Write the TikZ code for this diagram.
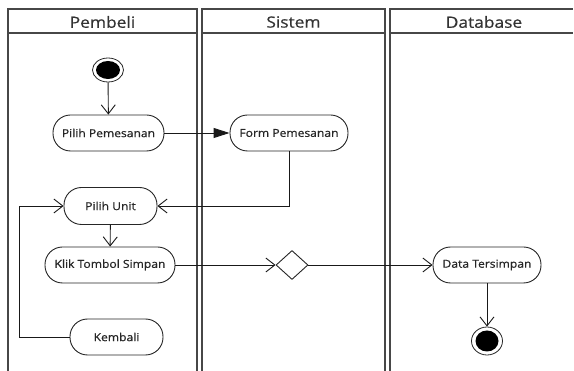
\documentclass[tikz,border=0pt]{standalone}
\usepackage{fontspec}
\setmainfont{Open Sans}[FakeStretch=1.1]
\usetikzlibrary{arrows.meta,shapes.geometric}
\tikzset{
  lane/.style={draw=black!72, line width=1.2pt},
  act/.style={draw=black!85, line width=0.9pt, fill=white, rounded corners=17.5pt,
    minimum height=36pt, inner sep=0pt, font=\fontsize{11}{13}\selectfont\addfontfeature{FakeBold=0.6}, text=black!85},
  hdr/.style={font=\fontsize{15.5}{18}\selectfont\addfontfeature{FakeStretch=1.12,FakeBold=0.5}, text=black!80},
  flow/.style={draw=black!90, line width=0.9pt, -{Straight Barb[length=9pt,width=14pt,line width=0.9pt]}},
  solidflow/.style={draw=black!90, line width=0.9pt, -{Triangle[length=16pt,width=10pt]}},
  dec/.style={draw=black!85, line width=0.9pt, fill=white, diamond, minimum width=32pt, minimum height=29pt, inner sep=0pt, aspect=1.1},
}
\begin{document}
\begin{tikzpicture}[x=1pt,y=-1pt]
\useasboundingbox (0,0) rectangle (574,371);
% lanes
\draw[lane] (8,375) -- (8,9) -- (197,9) -- (197,375);
\draw[lane] (8,33) -- (197,33);
\draw[lane] (202,375) -- (202,9) -- (385,9) -- (385,375);
\draw[lane] (202,33) -- (385,33);
\draw[lane] (390,375) -- (390,9) -- (573,9);
\draw[lane] (390,33) -- (573,33);
\node[hdr] (h1) at (102.5,22) {Pembeli};
\node[hdr] (h2) at (293.5,22) {Sistem};
\node[hdr] (h3) at (484,22) {Database};
% start node
\node[draw=black!85, line width=0.8pt, ellipse, minimum width=31pt, minimum height=24pt, inner sep=0pt] (start) at (108,70) {};
\fill[black] (start.center) ellipse [x radius=12pt, y radius=9pt];
% activities
\node[act, minimum width=111pt] (pp) at (108.5,133) {Pilih Pemesanan};
\node[act, minimum width=118pt] (fp) at (289,133) {Form Pemesanan};
\node[act, minimum width=93pt, minimum height=37pt] (pu) at (110.5,206) {Pilih Unit};
\node[act, minimum width=130pt] (kts) at (110,265) {Klik Tombol Simpan};
\node[act, minimum width=93pt] (kb) at (116.5,337) {Kembali};
\node[act, minimum width=108pt] (dt) at (487,265) {Data Tersimpan};
\node[dec] (d) at (292,265) {};
% end node
\node[draw=black!85, line width=0.8pt, ellipse, minimum width=31pt, minimum height=28pt, inner sep=0pt] (end) at (487,341) {};
\fill[black] (end.center) ellipse [x radius=11.5pt, y radius=10.5pt];
\coordinate (c1) at (289,206);
\coordinate (c2) at (19,337);
\coordinate (c3) at (19,206);
% connectors
\draw[flow] (start) -- (pp);
\draw[solidflow] (pp) -- (fp);
\draw[flow] (fp.south) -- (c1) -- (pu.east);
\draw[flow] (pu) -- (kts);
\draw[flow] (kts.east) -- (d.west);
\draw[flow] (d.east) -- (dt.west);
\draw[flow] (dt) -- (end);
\draw[flow] (kb.west) -- (c2) -- (c3) -- (pu.west);
\end{tikzpicture}
\end{document}
